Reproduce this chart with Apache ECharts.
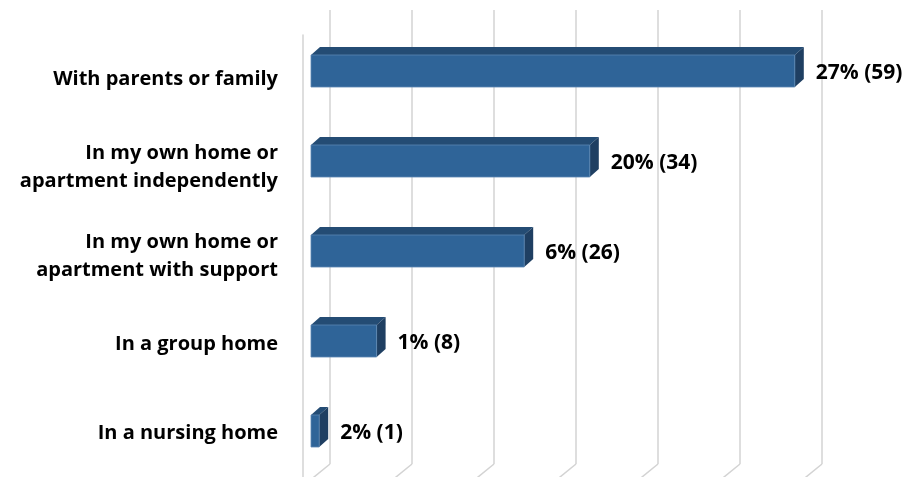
<!DOCTYPE html>
<html>
<head>
<meta charset="utf-8">
<script src="https://cdn.jsdelivr.net/npm/echarts@6/dist/echarts.min.js"></script>
<style>
  html, body { margin: 0; padding: 0; background: #fff; }
  #chart { width: 908px; height: 477px; }
</style>
</head>
<body>
<div id="chart"></div>
<script>
// Living situation responses
const categories = [
  'With parents or family',
  'In my own home or\napartment independently',
  'In my own home or\napartment with support',
  'In a group home',
  'In a nursing home'
];
const counts = [59, 34, 26, 8, 1];
const percents = ['27%', '20%', '6%', '1%', '2%'];
const gridTicks = [0, 10, 20, 30, 40, 50, 60];

const AXIS_MAX = 60;
const FONT = '"Open Sans", Lato, sans-serif';
const CAT_FONT_SIZE = 20;
const VALUE_FONT_SIZE = 21;
const GRID_COLOR = '#d3d3d3';
// depth of the floor, from back wall to front edge
const FLOOR_DX = -27, FLOOR_DY = 22;
// bar extrusion depth
const BAR_DX = 9, BAR_DY = 8;
const BAR_H = 32;

const chart = echarts.init(document.getElementById('chart'), null, { renderer: 'canvas' });

const option = {
  animation: false,
  backgroundColor: '#ffffff',
  grid: [
    // back wall with vertical gridlines
    { left: 330, width: 492, top: 10, height: 454 },
    // front plane of the bars
    { left: 311, width: 492, top: 26, height: 450 },
    // front edge of the floor, carries the category labels
    { left: 303, width: 492, top: 35, height: 452 }
  ],
  xAxis: [0, 1, 2].map(i => ({
    type: 'value', gridIndex: i, min: 0, max: AXIS_MAX, interval: 10,
    axisLine: { show: false }, axisTick: { show: false }, axisLabel: { show: false },
    splitLine: { show: i === 0, lineStyle: { color: GRID_COLOR, width: 1.5 } }
  })),
  yAxis: [0, 1, 2].map(i => ({
    type: 'category', gridIndex: i, inverse: true, data: categories,
    axisTick: { show: false },
    axisLine: { show: i === 2, lineStyle: { color: GRID_COLOR, width: 1.5 } },
    splitLine: { show: false },
    axisLabel: i === 2 ? {
      show: true, interval: 0, margin: 25, color: '#000',
      fontFamily: FONT, fontWeight: 'bold', fontSize: CAT_FONT_SIZE, lineHeight: 28, align: 'right'
    } : { show: false }
  })),
  series: [
    {
      // floor lines running from the foot of each gridline toward the viewer
      type: 'custom',
      xAxisIndex: 0, yAxisIndex: 0,
      silent: true,
      z: 1,
      data: gridTicks.map(t => [t, 0]),
      renderItem(params, api) {
        const x = api.coord([api.value(0), 0])[0];
        const yb = params.coordSys.y + params.coordSys.height;
        return {
          type: 'line',
          shape: { x1: x, y1: yb, x2: x + FLOOR_DX, y2: yb + FLOOR_DY },
          style: { stroke: GRID_COLOR, lineWidth: 1.5 }
        };
      }
    },
    {
      // extruded bars with their value labels
      type: 'custom',
      xAxisIndex: 1, yAxisIndex: 1,
      z: 3,
      dimensions: ['count', 'index', { name: 'label', type: 'ordinal' }],
      data: counts.map((c, i) => [c, i, percents[i] + ' (' + c + ')']),
      renderItem(params, api) {
        const ci = api.value(1);
        const p0 = api.coord([0, ci]);
        const p1 = api.coord([api.value(0), ci]);
        const x0 = p0[0], x1 = p1[0], yc = p0[1];
        const top = yc - BAR_H / 2, bottom = yc + BAR_H / 2;
        return {
          type: 'group',
          children: [
            {
              type: 'polygon',
              shape: { points: [[x0, top], [x1, top], [x1 + BAR_DX, top - BAR_DY], [x0 + BAR_DX, top - BAR_DY]] },
              style: { fill: '#244c74' }
            },
            {
              type: 'polygon',
              shape: { points: [[x1, top], [x1 + BAR_DX, top - BAR_DY], [x1 + BAR_DX, bottom - BAR_DY], [x1, bottom]] },
              style: { fill: '#1f3f62' }
            },
            {
              type: 'rect',
              shape: { x: x0, y: top, width: x1 - x0, height: BAR_H },
              style: { fill: '#2f6498', stroke: '#5a86b3', lineWidth: 0.8 }
            },
            {
              type: 'text',
              style: {
                x: x1 + BAR_DX + 12, y: yc + 2,
                text: api.value(2),
                fill: '#000', font: 'bold ' + VALUE_FONT_SIZE + 'px ' + FONT,
                verticalAlign: 'middle', align: 'left'
              }
            }
          ]
        };
      }
    }
  ]
};

chart.setOption(option);
</script>
</body>
</html>
